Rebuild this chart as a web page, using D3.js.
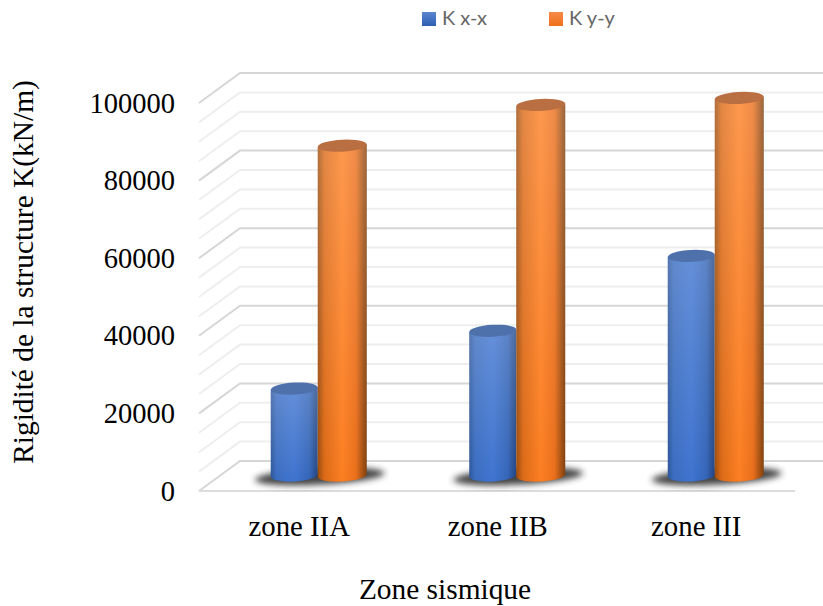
<!DOCTYPE html>
<html><head><meta charset="utf-8">
<script src="https://cdn.jsdelivr.net/npm/d3@7"></script>
<style>html,body{margin:0;padding:0;background:#fff}svg{display:block}</style>
</head><body><div id="c"></div>
<script>
const categories=["zone IIA","zone IIB","zone III"];
const seriesNames=["K x-x","K y-y"];
const kxx=[22400,37300,56600];
const kyy=[85000,95500,97300];
const yTicks=[0,20000,40000,60000,80000,100000];
const gridValues=d3.range(0,100001,5000);

const W=823,H=606;
const svg=d3.select("#c").append("svg").attr("width",W).attr("height",H);
const defs=svg.append("defs");
function grad(id,stops,vertical){
  const g=defs.append("linearGradient").attr("id",id);
  if(vertical) g.attr("x1",0).attr("x2",0).attr("y1",0).attr("y2",1);
  stops.forEach(s=>{
    const st=g.append("stop").attr("offset",s[0]).attr("stop-color",s[1]);
    if(s[2]!==undefined) st.attr("stop-opacity",s[2]);
  });
}
grad("bbody",[[0,"#2b5599"],[0.12,"#3a6cc0"],[0.5,"#3f74d0"],[0.82,"#3465b8"],[1,"#224480"]]);
grad("obody",[[0,"#9c4c0d"],[0.14,"#dc6a17"],[0.5,"#fd7f22"],[0.78,"#ea6f1b"],[1,"#7e400e"]]);
grad("lite",[[0,"#ffffff",0.2],[0.55,"#ffffff",0.09],[1,"#ffffff",0]],true);
grad("lb",[[0,"#5b86cf"],[1,"#2f5fb3"]],true);
grad("lo",[[0,"#f58a46"],[1,"#f0701c"]],true);
defs.append("filter").attr("id","blur").attr("x","-20%").attr("y","-80%").attr("width","140%").attr("height","260%")
  .append("feGaussianBlur").attr("stdDeviation",3);

const y=d3.scaleLinear().domain([0,100000]).range([461,73]);
const depth={dx:41,dy:30};
const xEnd=795;
const x0=d3.scaleBand().domain(categories).range([218.5,814]);
const barBaseOffset=14.5;
const ry=6, tilt=-3;

const gGrid=svg.append("g").attr("fill","none");
gridValues.forEach(v=>{
  const major=v%20000===0;
  const yy=y(v);
  gGrid.append("path")
    .attr("d",`M199,${yy+depth.dy}L${199+depth.dx},${yy}L${W},${yy}`)
    .attr("stroke",major?"#d6d6d6":"#eeeeee").attr("stroke-width",2);
});
gGrid.append("path").attr("d",`M199,491L${xEnd},491`).attr("stroke","#dcdcdc").attr("stroke-width",2);

const yBar=v=>y(v)+barBaseOffset;
categories.forEach(c=>{
  const cx=x0(c)+x0.bandwidth()/2;
  svg.append("ellipse").attr("cx",cx+2).attr("cy",yBar(0)+1)
    .attr("rx",65).attr("ry",8).attr("fill","#333").attr("opacity",0.92).attr("filter","url(#blur)")
    .attr("transform",`rotate(${tilt} ${cx+2} ${yBar(0)+1})`);
});
function cyl(g,cx,rx,val,body,top){
  const yb=yBar(0),yt=yBar(val);
  const dy=rx*Math.sin(-tilt*Math.PI/180);
  const d=`M${cx-rx},${yt+dy}L${cx-rx},${yb+dy}A${rx},${ry} ${tilt} 0 0 ${cx+rx},${yb-dy}L${cx+rx},${yt-dy}Z`;
  g.append("path").attr("d",d).attr("fill",`url(#${body})`);
  g.append("path").attr("d",d).attr("fill","url(#lite)");
  g.append("ellipse").attr("cx",cx).attr("cy",yt).attr("rx",rx).attr("ry",ry)
    .attr("transform",`rotate(${tilt} ${cx} ${yt})`).attr("fill",top);
}
const gBars=svg.append("g");
categories.forEach((c,i)=>{
  const mid=x0(c)+x0.bandwidth()/2;
  cyl(gBars,mid-23.5,23.5,kxx[i],"bbody","#4f71ab");
  cyl(gBars,mid+24.5,24.5,kyy[i],"obody","#b96f42");
});

const serif="'Liberation Serif','Times New Roman',serif";
svg.append("g").selectAll("text").data(yTicks).join("text")
  .attr("x",175).attr("y",d=>y(d)+30+9.5).attr("text-anchor","end")
  .attr("font-family",serif).attr("font-size",28.5).attr("fill","#000").text(d=>d);
svg.append("g").selectAll("text").data(categories).join("text")
  .attr("x",d=>x0(d)+x0.bandwidth()/2-18.5).attr("y",536).attr("text-anchor","middle")
  .attr("font-family",serif).attr("font-size",28.8).attr("fill","#000").text(d=>d);
svg.append("text").attr("x",445).attr("y",599).attr("text-anchor","middle")
  .attr("font-family",serif).attr("font-size",29.4).text("Zone sismique");
svg.append("text").attr("transform","translate(33,272) rotate(-90)").attr("text-anchor","middle")
  .attr("font-family",serif).attr("font-size",29.4).text("Rigidité de la structure K(kN/m)");
const lx=[422,549];
seriesNames.forEach((n,i)=>{
  svg.append("rect").attr("x",lx[i]).attr("y",12).attr("width",14).attr("height",14).attr("fill",i?"url(#lo)":"url(#lb)");
  svg.append("text").attr("x",lx[i]+20).attr("y",25).attr("font-family","Lato,sans-serif").attr("font-size",20).attr("fill","#666").text(n);
});
</script></body></html>
